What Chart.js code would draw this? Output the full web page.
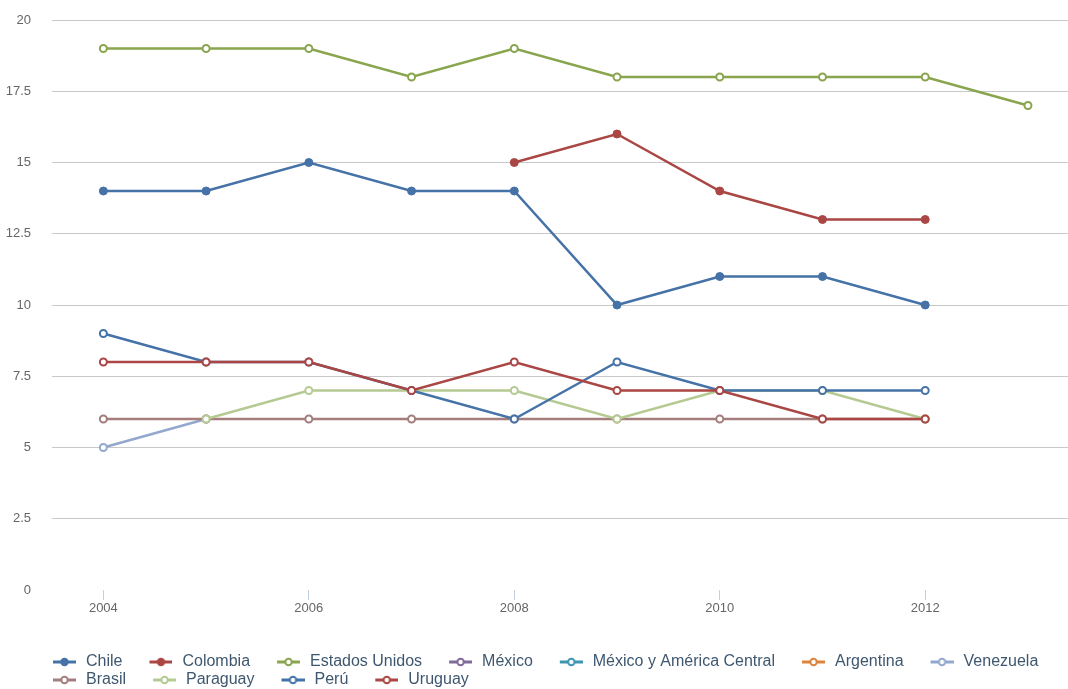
<!DOCTYPE html>
<html>
<head>
<meta charset="utf-8">
<script src="https://cdn.jsdelivr.net/npm/chart.js@4"></script>
<style>
  html, body { margin: 0; padding: 0; background: #fff; overflow: hidden; }
  #wrap { width: 1068px; height: 698px; }
</style>
</head>
<body>
<div id="wrap"><canvas id="chart" width="1068" height="698"></canvas></div>
<script>
// --- DATA ---
const years = [2004, 2005, 2006, 2007, 2008, 2009, 2010, 2011, 2012, 2013];
const xTicks = [2004, 2006, 2008, 2010, 2012];

const seriesNames = ['Chile', 'Colombia', 'Estados Unidos', 'México', 'México y América Central',
  'Argentina', 'Venezuela', 'Brasil', 'Paraguay', 'Perú', 'Uruguay'];
const seriesColors = ['#4572A7', '#AA4643', '#89A54E', '#80699B', '#3D96AE',
  '#DB843D', '#92A8CD', '#A47D7C', '#B5CA92', '#4572A7', '#AA4643'];
const filledMarkers = [true, true, false, false, false, false, false, false, false, false, false];

const chile     = [14, 14, 15, 14, 14, 10, 11, 11, 10, null];
const colombia  = [null, null, null, null, 15, 16, 14, 13, 13, null];
const eeuu      = [19, 19, 19, 18, 19, 18, 18, 18, 18, 17];
const mexico    = [null, null, null, null, null, null, null, null, null, null];
const mexicoAC  = [null, null, null, null, null, null, null, null, null, null];
const argentina = [null, null, null, null, null, null, null, null, null, null];
const venezuela = [5, 6, null, null, null, null, null, null, null, null];
const brasil    = [6, 6, 6, 6, 6, 6, 6, 6, 6, null];
const paraguay  = [null, 6, 7, 7, 7, 6, 7, 7, 6, null];
const peru      = [9, 8, 8, 7, 6, 8, 7, 7, 7, null];
const uruguay   = [8, 8, 8, 7, 8, 7, 7, 6, 6, null];

const seriesValues = [chile, colombia, eeuu, mexico, mexicoAC, argentina, venezuela, brasil, paraguay, peru, uruguay];

// --- LEGEND SYMBOLS (line + marker) ---
function legendSymbol(color, filled) {
  const c = document.createElement('canvas');
  c.width = 46; c.height = 10;
  const g = c.getContext('2d');
  g.strokeStyle = color;
  g.lineWidth = 3;
  g.beginPath(); g.moveTo(23, 5); g.lineTo(46, 5); g.stroke();
  g.beginPath(); g.arc(34.5, 5, 3.2, 0, Math.PI * 2);
  g.fillStyle = filled ? color : '#fff';
  g.fill();
  g.lineWidth = 2;
  g.stroke();
  return c;
}
const legendImgs = seriesNames.map((n, i) => legendSymbol(seriesColors[i], filledMarkers[i]));

const datasets = seriesNames.map((name, i) => ({
  label: name,
  data: years.map((y, j) => ({ x: y, y: seriesValues[i][j] })),
  borderColor: seriesColors[i],
  backgroundColor: seriesColors[i],
  borderWidth: 2.5,
  pointRadius: filledMarkers[i] ? 4 : 3.5,
  pointBackgroundColor: filledMarkers[i] ? seriesColors[i] : '#fff',
  pointBorderColor: seriesColors[i],
  pointBorderWidth: filledMarkers[i] ? 1 : 2,
  tension: 0,
  spanGaps: false,
  clip: 8,
  order: -i
}));

const FONT = 'Liberation Sans, Arial, Helvetica, sans-serif';

// legend sits a bit to the right of the canvas edge, like the original
const legendShift = {
  id: 'legendShift',
  afterLayout(chart) {
    chart.legend.left += 26;
    chart.legend.right += 26;
  }
};

new Chart(document.getElementById('chart'), {
  type: 'line',
  data: { datasets },
  plugins: [legendShift],
  options: {
    responsive: false,
    animation: false,
    layout: { autoPadding: false, padding: { left: 0, top: 20, right: 0, bottom: 0 } },
    plugins: {
      tooltip: { enabled: false },
      legend: {
        position: 'bottom',
        align: 'start',
        labels: {
          usePointStyle: true,
          pointStyleWidth: 50,
          padding: 2,
          font: { family: FONT, size: 16 },
          color: '#3E576F',
          generateLabels: chart => chart.data.datasets.map((ds, i) => ({
            text: ds.label,
            datasetIndex: i,
            hidden: !chart.isDatasetVisible(i),
            pointStyle: legendImgs[i],
            fillStyle: ds.borderColor,
            strokeStyle: ds.borderColor,
            fontColor: '#3E576F',
            lineWidth: 0
          }))
        }
      }
    },
    scales: {
      x: {
        type: 'linear',
        min: 2003.5,
        max: 2013.39,
        afterBuildTicks: s => { s.ticks = xTicks.map(v => ({ value: v })); },
        afterFit: s => { s.height = 62; s.paddingLeft = 0; s.paddingRight = 0; },
        border: { display: false },
        grid: { drawOnChartArea: false, drawTicks: true, tickLength: 10, color: '#C0D0E0' },
        ticks: {
          padding: 1,
          maxRotation: 0,
          color: '#666',
          font: { family: FONT, size: 13 },
          callback: v => String(v)
        }
      },
      y: {
        min: 0,
        max: 20,
        afterFit: s => { s.width = 52; s.paddingTop = 8; s.paddingBottom = 0; },
        border: { display: false },
        grid: {
          drawTicks: false,
          color: c => (c.tick && c.tick.value === 0) ? 'rgba(0,0,0,0)' : '#C8C8C8',
          lineWidth: 1
        },
        ticks: {
          stepSize: 2.5,
          padding: 21,
          color: '#666',
          font: { family: FONT, size: 13 }
        }
      }
    }
  }
});
</script>
</body>
</html>
